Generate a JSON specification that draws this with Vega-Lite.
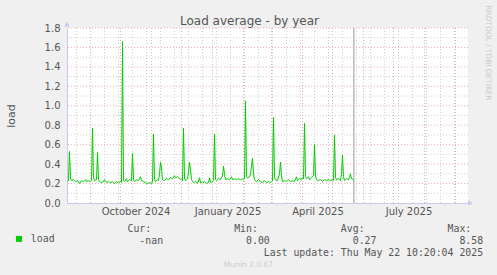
{
  "$schema": "https://vega.github.io/schema/vega-lite/v6.json",
  "width": 401,
  "height": 175,
  "autosize": {"type": "none"},
  "padding": {"left": 67, "top": 28, "right": 29, "bottom": 72},
  "background": "#f0f0f0",
  "config": {"view": {"stroke": null, "fill": "#ffffff"}, "font": "DejaVu Sans"},
  "title": {"text": "Munin 2.0.67", "orient": "bottom", "fontSize": 7.5, "color": "#cccccc", "font": "DejaVu Sans", "fontWeight": "normal", "anchor": "middle", "dx": -19, "offset": 4},
  "datasets": {
    "xminor": [
      {"t": "2024-08-18"}, {"t": "2024-09-15"}, {"t": "2024-09-29"}, {"t": "2024-10-13"}, {"t": "2024-10-27"}, {"t": "2024-11-10"}, {"t": "2024-11-24"}, {"t": "2024-12-08"}, {"t": "2024-12-22"}, {"t": "2025-01-05"}, {"t": "2025-01-19"}, {"t": "2025-02-02"}, {"t": "2025-02-16"}, {"t": "2025-03-02"}, {"t": "2025-03-16"}, {"t": "2025-03-30"}, {"t": "2025-04-13"}, {"t": "2025-04-27"}, {"t": "2025-05-11"}, {"t": "2025-05-25"}, {"t": "2025-06-08"}, {"t": "2025-06-22"}, {"t": "2025-07-06"}, {"t": "2025-07-20"}, {"t": "2025-08-03"}, {"t": "2025-08-17"}, {"t": "2025-08-31"}
    ],
    "xmajor": [
      {"t": "2024-09-01"}, {"t": "2024-10-01"}, {"t": "2024-11-01"}, {"t": "2024-12-01"}, {"t": "2025-01-01"}, {"t": "2025-02-01"}, {"t": "2025-03-01"}, {"t": "2025-04-01"}, {"t": "2025-05-01"}, {"t": "2025-06-01"}, {"t": "2025-07-01"}, {"t": "2025-08-01"}, {"t": "2025-09-01"}
    ],
    "yminor": [{"v": 0.1}, {"v": 0.3}, {"v": 0.5}, {"v": 0.7}, {"v": 0.9}, {"v": 1.1}, {"v": 1.3}, {"v": 1.5}, {"v": 1.7}],
    "ymajor": [{"v": 0.2}, {"v": 0.4}, {"v": 0.6}, {"v": 0.8}, {"v": 1.0}, {"v": 1.2}, {"v": 1.4}, {"v": 1.6}, {"v": 1.8}],
    "load": [
      {"t": "2024-08-09", "v": 0.22}, {"t": "2024-08-10", "v": 0.23}, {"t": "2024-08-11", "v": 0.53}, {"t": "2024-08-12", "v": 0.25}, {"t": "2024-08-13", "v": 0.23}, {"t": "2024-08-15", "v": 0.24}, {"t": "2024-08-17", "v": 0.22}, {"t": "2024-08-19", "v": 0.23}, {"t": "2024-08-21", "v": 0.20}, {"t": "2024-08-23", "v": 0.23}, {"t": "2024-08-25", "v": 0.22}, {"t": "2024-08-27", "v": 0.24}, {"t": "2024-08-28", "v": 0.22}, {"t": "2024-08-30", "v": 0.23},
      {"t": "2024-09-01", "v": 0.22}, {"t": "2024-09-02", "v": 0.23}, {"t": "2024-09-03", "v": 0.77}, {"t": "2024-09-04", "v": 0.26}, {"t": "2024-09-05", "v": 0.23}, {"t": "2024-09-07", "v": 0.24}, {"t": "2024-09-08", "v": 0.52}, {"t": "2024-09-09", "v": 0.24}, {"t": "2024-09-10", "v": 0.22}, {"t": "2024-09-12", "v": 0.21}, {"t": "2024-09-14", "v": 0.22}, {"t": "2024-09-15", "v": 0.24}, {"t": "2024-09-17", "v": 0.21}, {"t": "2024-09-19", "v": 0.22}, {"t": "2024-09-21", "v": 0.21}, {"t": "2024-09-23", "v": 0.22}, {"t": "2024-09-25", "v": 0.20}, {"t": "2024-09-27", "v": 0.22}, {"t": "2024-09-29", "v": 0.21},
      {"t": "2024-10-01", "v": 0.22}, {"t": "2024-10-02", "v": 0.21}, {"t": "2024-10-03", "v": 1.66}, {"t": "2024-10-04", "v": 0.23}, {"t": "2024-10-05", "v": 0.22}, {"t": "2024-10-07", "v": 0.25}, {"t": "2024-10-08", "v": 0.22}, {"t": "2024-10-10", "v": 0.24}, {"t": "2024-10-12", "v": 0.23}, {"t": "2024-10-13", "v": 0.51}, {"t": "2024-10-14", "v": 0.24}, {"t": "2024-10-15", "v": 0.22}, {"t": "2024-10-17", "v": 0.24}, {"t": "2024-10-19", "v": 0.23}, {"t": "2024-10-21", "v": 0.27}, {"t": "2024-10-22", "v": 0.23}, {"t": "2024-10-24", "v": 0.22}, {"t": "2024-10-26", "v": 0.21}, {"t": "2024-10-28", "v": 0.20}, {"t": "2024-10-30", "v": 0.21},
      {"t": "2024-11-01", "v": 0.20}, {"t": "2024-11-02", "v": 0.22}, {"t": "2024-11-03", "v": 0.71}, {"t": "2024-11-04", "v": 0.24}, {"t": "2024-11-05", "v": 0.22}, {"t": "2024-11-07", "v": 0.24}, {"t": "2024-11-08", "v": 0.23}, {"t": "2024-11-09", "v": 0.30}, {"t": "2024-11-10", "v": 0.42}, {"t": "2024-11-11", "v": 0.36}, {"t": "2024-11-12", "v": 0.24}, {"t": "2024-11-14", "v": 0.23}, {"t": "2024-11-16", "v": 0.25}, {"t": "2024-11-18", "v": 0.24}, {"t": "2024-11-20", "v": 0.26}, {"t": "2024-11-22", "v": 0.25}, {"t": "2024-11-24", "v": 0.28}, {"t": "2024-11-25", "v": 0.26}, {"t": "2024-11-27", "v": 0.27}, {"t": "2024-11-29", "v": 0.25},
      {"t": "2024-12-01", "v": 0.24}, {"t": "2024-12-02", "v": 0.23}, {"t": "2024-12-03", "v": 0.77}, {"t": "2024-12-04", "v": 0.25}, {"t": "2024-12-05", "v": 0.23}, {"t": "2024-12-07", "v": 0.25}, {"t": "2024-12-08", "v": 0.32}, {"t": "2024-12-09", "v": 0.42}, {"t": "2024-12-10", "v": 0.34}, {"t": "2024-12-11", "v": 0.24}, {"t": "2024-12-13", "v": 0.21}, {"t": "2024-12-15", "v": 0.22}, {"t": "2024-12-17", "v": 0.20}, {"t": "2024-12-19", "v": 0.26}, {"t": "2024-12-20", "v": 0.21}, {"t": "2024-12-22", "v": 0.21}, {"t": "2024-12-24", "v": 0.22}, {"t": "2024-12-26", "v": 0.20}, {"t": "2024-12-28", "v": 0.21}, {"t": "2024-12-29", "v": 0.26}, {"t": "2024-12-30", "v": 0.21},
      {"t": "2025-01-01", "v": 0.22}, {"t": "2025-01-02", "v": 0.23}, {"t": "2025-01-03", "v": 0.71}, {"t": "2025-01-04", "v": 0.24}, {"t": "2025-01-05", "v": 0.23}, {"t": "2025-01-07", "v": 0.25}, {"t": "2025-01-09", "v": 0.24}, {"t": "2025-01-11", "v": 0.28}, {"t": "2025-01-12", "v": 0.38}, {"t": "2025-01-13", "v": 0.30}, {"t": "2025-01-14", "v": 0.24}, {"t": "2025-01-16", "v": 0.25}, {"t": "2025-01-18", "v": 0.24}, {"t": "2025-01-20", "v": 0.27}, {"t": "2025-01-21", "v": 0.24}, {"t": "2025-01-23", "v": 0.25}, {"t": "2025-01-25", "v": 0.24}, {"t": "2025-01-27", "v": 0.25}, {"t": "2025-01-29", "v": 0.24}, {"t": "2025-01-31", "v": 0.25},
      {"t": "2025-02-01", "v": 0.24}, {"t": "2025-02-02", "v": 0.25}, {"t": "2025-02-03", "v": 1.05}, {"t": "2025-02-04", "v": 0.27}, {"t": "2025-02-05", "v": 0.26}, {"t": "2025-02-07", "v": 0.27}, {"t": "2025-02-08", "v": 0.30}, {"t": "2025-02-09", "v": 0.38}, {"t": "2025-02-10", "v": 0.46}, {"t": "2025-02-11", "v": 0.30}, {"t": "2025-02-12", "v": 0.24}, {"t": "2025-02-14", "v": 0.22}, {"t": "2025-02-16", "v": 0.24}, {"t": "2025-02-18", "v": 0.22}, {"t": "2025-02-20", "v": 0.21}, {"t": "2025-02-22", "v": 0.23}, {"t": "2025-02-24", "v": 0.21}, {"t": "2025-02-26", "v": 0.22}, {"t": "2025-02-28", "v": 0.21},
      {"t": "2025-03-01", "v": 0.22}, {"t": "2025-03-02", "v": 0.23}, {"t": "2025-03-03", "v": 0.88}, {"t": "2025-03-04", "v": 0.26}, {"t": "2025-03-05", "v": 0.24}, {"t": "2025-03-07", "v": 0.23}, {"t": "2025-03-09", "v": 0.30}, {"t": "2025-03-10", "v": 0.42}, {"t": "2025-03-11", "v": 0.28}, {"t": "2025-03-12", "v": 0.22}, {"t": "2025-03-14", "v": 0.23}, {"t": "2025-03-16", "v": 0.22}, {"t": "2025-03-18", "v": 0.24}, {"t": "2025-03-20", "v": 0.22}, {"t": "2025-03-22", "v": 0.23}, {"t": "2025-03-24", "v": 0.22}, {"t": "2025-03-26", "v": 0.27}, {"t": "2025-03-27", "v": 0.23}, {"t": "2025-03-29", "v": 0.25}, {"t": "2025-03-31", "v": 0.24},
      {"t": "2025-04-01", "v": 0.26}, {"t": "2025-04-02", "v": 0.25}, {"t": "2025-04-03", "v": 0.82}, {"t": "2025-04-04", "v": 0.27}, {"t": "2025-04-05", "v": 0.25}, {"t": "2025-04-07", "v": 0.27}, {"t": "2025-04-08", "v": 0.24}, {"t": "2025-04-10", "v": 0.26}, {"t": "2025-04-12", "v": 0.28}, {"t": "2025-04-13", "v": 0.60}, {"t": "2025-04-14", "v": 0.28}, {"t": "2025-04-15", "v": 0.24}, {"t": "2025-04-17", "v": 0.23}, {"t": "2025-04-19", "v": 0.24}, {"t": "2025-04-21", "v": 0.22}, {"t": "2025-04-23", "v": 0.24}, {"t": "2025-04-25", "v": 0.23}, {"t": "2025-04-27", "v": 0.24}, {"t": "2025-04-29", "v": 0.23},
      {"t": "2025-05-01", "v": 0.24}, {"t": "2025-05-02", "v": 0.23}, {"t": "2025-05-03", "v": 0.70}, {"t": "2025-05-04", "v": 0.26}, {"t": "2025-05-05", "v": 0.24}, {"t": "2025-05-07", "v": 0.25}, {"t": "2025-05-09", "v": 0.23}, {"t": "2025-05-10", "v": 0.30}, {"t": "2025-05-11", "v": 0.49}, {"t": "2025-05-12", "v": 0.27}, {"t": "2025-05-13", "v": 0.23}, {"t": "2025-05-15", "v": 0.25}, {"t": "2025-05-17", "v": 0.24}, {"t": "2025-05-19", "v": 0.30}, {"t": "2025-05-20", "v": 0.25}, {"t": "2025-05-22", "v": 0.24}
    ]
  },
  "layer": [
    {
      "data": {"name": "xminor"},
      "mark": {"type": "rule", "color": "#d0d0d0", "strokeWidth": 1, "strokeDash": [1, 2]},
      "encoding": {
        "x": {"field": "t", "type": "temporal", "scale": {"type": "utc", "domain": ["2024-08-08T12:00:00Z", "2025-09-13T12:00:00Z"]},
          "axis": {"orient": "top", "labels": false, "ticks": false, "domain": false, "grid": false, "title": "Load average - by year", "titleFont": "DejaVu Sans", "titleFontSize": 12, "titleFontWeight": "normal", "titleColor": "#555555", "titleX": 182, "titleY": -4, "titleAlign": "center", "titleBaseline": "alphabetic"}}
      }
    },
    {
      "data": {"name": "yminor"},
      "mark": {"type": "rule", "color": "#d0d0d0", "strokeWidth": 1, "strokeDash": [1, 2]},
      "encoding": {
        "y": {"field": "v", "type": "quantitative", "scale": {"domain": [0, 1.8], "nice": false, "zero": true},
          "axis": {"orient": "right", "labels": false, "ticks": false, "domain": false, "grid": false, "title": "RRDTOOL / TOBI OETIKER", "titleFont": "DejaVu Sans", "titleFontSize": 7.4, "titleFontWeight": "normal", "titleColor": "#c8c8c8", "titleAngle": 90, "titleX": 19, "titleY": 24.5, "titleAlign": "center", "titleBaseline": "middle"}}
      }
    },
    {
      "data": {"name": "xmajor"},
      "mark": {"type": "rule", "color": "#f0b0b0", "strokeWidth": 1, "strokeDash": [1, 2]},
      "encoding": {
        "x": {"field": "t", "type": "temporal", "scale": {"type": "utc", "domain": ["2024-08-08T12:00:00Z", "2025-09-13T12:00:00Z"]}, "axis": null}
      }
    },
    {
      "data": {"name": "ymajor"},
      "mark": {"type": "rule", "color": "#f0b0b0", "strokeWidth": 1, "strokeDash": [1, 2]},
      "encoding": {
        "y": {"field": "v", "type": "quantitative", "scale": {"domain": [0, 1.8], "nice": false}, "axis": null}
      }
    },
    {
      "data": {"values": [{}]},
      "mark": {"type": "rule", "color": "#999999", "strokeWidth": 1},
      "encoding": {
        "x": {"datum": {"year": 2025, "month": 5, "date": 22, "hours": 10, "utc": true}, "type": "temporal", "scale": {"type": "utc", "domain": ["2024-08-08T12:00:00Z", "2025-09-13T12:00:00Z"]}, "axis": null}
      }
    },
    {
      "data": {"values": [{}]},
      "mark": {"type": "point", "shape": "triangle-up", "filled": true, "size": 30, "color": "#c8c8f0", "opacity": 1},
      "encoding": {
        "x": {"datum": {"year": 2024, "month": 8, "date": 8, "hours": 12, "utc": true}, "type": "temporal", "scale": {"type": "utc", "domain": ["2024-08-08T12:00:00Z", "2025-09-13T12:00:00Z"]}, "axis": null},
        "y": {"datum": 1.84, "type": "quantitative", "scale": {"domain": [0, 1.8], "nice": false}, "axis": null}
      }
    },
    {
      "data": {"values": [{}]},
      "mark": {"type": "point", "shape": "triangle-right", "filled": true, "size": 30, "color": "#c8c8f0", "opacity": 1},
      "encoding": {
        "x": {"datum": {"year": 2025, "month": 9, "date": 16, "utc": true}, "type": "temporal", "scale": {"type": "utc", "domain": ["2024-08-08T12:00:00Z", "2025-09-13T12:00:00Z"]}, "axis": null},
        "y": {"datum": 0, "type": "quantitative", "scale": {"domain": [0, 1.8], "nice": false}, "axis": null}
      }
    },
    {
      "data": {"name": "load"},
      "mark": {"type": "line", "strokeWidth": 1, "interpolate": "linear"},
      "encoding": {
        "x": {"field": "t", "type": "temporal", "scale": {"type": "utc", "domain": ["2024-08-08T12:00:00Z", "2025-09-13T12:00:00Z"]},
          "axis": {"orient": "bottom", "values": ["2024-10-16", "2025-01-16", "2025-04-16", "2025-07-16"], "format": "%B %Y", "labelFont": "DejaVu Sans", "labelFontSize": 10, "labelColor": "#555555", "labelPadding": 3, "ticks": false, "grid": false, "domain": true, "domainColor": "#c8c8f0", "labelFlush": false, "labelOverlap": false,
            "title": ["Cur:\u00a0\u00a0\u00a0\u00a0\u00a0\u00a0\u00a0\u00a0\u00a0\u00a0\u00a0\u00a0\u00a0\u00a0Min:\u00a0\u00a0\u00a0\u00a0\u00a0\u00a0\u00a0\u00a0\u00a0\u00a0\u00a0\u00a0\u00a0\u00a0Avg:\u00a0\u00a0\u00a0\u00a0\u00a0\u00a0\u00a0\u00a0\u00a0\u00a0\u00a0\u00a0\u00a0\u00a0Max:",
                      "\u200b\u00a0\u00a0-nan\u00a0\u00a0\u00a0\u00a0\u00a0\u00a0\u00a0\u00a0\u00a0\u00a0\u00a0\u00a0\u00a0\u00a00.00\u00a0\u00a0\u00a0\u00a0\u00a0\u00a0\u00a0\u00a0\u00a0\u00a0\u00a0\u00a0\u00a0\u00a00.27\u00a0\u00a0\u00a0\u00a0\u00a0\u00a0\u00a0\u00a0\u00a0\u00a0\u00a0\u00a0\u00a0\u00a08.58",
                      "\u200b\u00a0\u00a0\u00a0\u00a0\u00a0\u00a0\u00a0\u00a0\u00a0\u00a0\u00a0\u00a0\u00a0\u00a0\u00a0\u00a0\u00a0\u00a0\u00a0\u00a0\u00a0\u00a0\u00a0Last update: Thu May 22 10:20:04 2025"],
            "titleFont": "DejaVu Sans Mono", "titleFontSize": 9.85, "titleFontWeight": "normal", "titleColor": "#555555", "titleAlign": "left", "titleBaseline": "alphabetic", "titleX": 60, "titleY": 28, "titleLineHeight": 12}},
        "y": {"field": "v", "type": "quantitative", "scale": {"domain": [0, 1.8], "nice": false},
          "axis": {"orient": "left", "values": [0, 0.2, 0.4, 0.6, 0.8, 1.0, 1.2, 1.4, 1.6, 1.8], "format": ".1f", "labelFont": "DejaVu Sans", "labelFontSize": 10, "labelColor": "#555555", "labelPadding": 7, "ticks": false, "grid": false, "domain": true, "domainColor": "#c8c8f0", "labelFlush": false, "labelOverlap": false,
            "title": "load", "titleFont": "DejaVu Sans", "titleFontSize": 11, "titleFontWeight": "normal", "titleColor": "#555555", "titleAngle": 270, "titleX": -56, "titleY": 87.5, "titleAlign": "center", "titleBaseline": "middle"}},
        "color": {"datum": "load", "type": "nominal", "scale": {"range": ["#00cc00"]},
          "legend": {"orient": "none", "legendX": -53, "legendY": 206, "title": null, "symbolType": "square", "symbolSize": 36, "symbolFillColor": "#00cc00", "symbolStrokeWidth": 0, "labelFont": "DejaVu Sans Mono", "labelFontSize": 9.85, "labelColor": "#555555", "labelOffset": 7, "padding": 0}}
      }
    }
  ],
  "resolve": {"axis": {"x": "independent", "y": "independent"}}
}
